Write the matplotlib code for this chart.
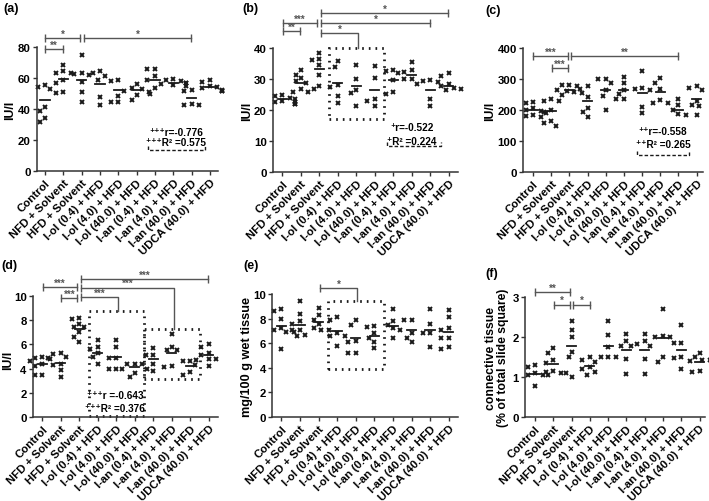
import numpy as np
import matplotlib
matplotlib.use('Agg')
import matplotlib.pyplot as plt
from matplotlib.patches import Rectangle

plt.rcParams['font.family'] = ['Liberation Sans', 'DejaVu Sans']
plt.rcParams['font.weight'] = 'bold'

groups = ['Control', 'NFD + Solvent', 'HFD + Solvent', 'I-ol (0.4) + HFD',
          'I-ol (4.0) + HFD', 'I-ol (40.0) + HFD', 'I-an (0.4) + HFD',
          'I-an (4.0) + HFD', 'I-an (40.0) + HFD', 'UDCA (40.0) + HFD']

# (a)
a_vals = [[54, 53, 55.5, 41.5, 39, 31.5, 34],
          [68.5, 64.5, 63.5, 63.5, 59, 57, 50.5, 51],
          [75, 62.5, 63.5, 62, 57.5, 51, 44.5],
          [64.5, 63, 61, 59, 42.5, 47.5],
          [58, 59, 48.5, 44.5, 44.5],
          [56, 53, 53.5, 51, 51.5, 49, 45.5],
          [66, 66, 61, 59, 53.5, 50],
          [59.5, 59, 58, 57, 57, 56, 55.5, 55],
          [52.5, 51.5, 43, 42.5, 42.5],
          [58.7, 57.5, 54.7, 54, 52.5, 51.5, 51.5, 53.5]]
a_means = [45.5, 59.3, 59, 56, 52.3, 52, 59, 56.7, 46.8, 54]

# (b)
b_vals = [[25, 24.5, 24, 23.5, 23, 22.5, 22, 22, 22.5],
          [32.9, 31.4, 30.3, 29.2, 28.7, 26.7, 25.7, 25.7],
          [38.4, 36.4, 36, 34.4, 31.2, 26.7, 27.8],
          [35.8, 34, 28.1, 27.4, 24.5, 22.1],
          [34.5, 30.1, 26.5, 25.4, 21.3],
          [34.2, 30.3, 23.7, 23, 21.2],
          [31.8, 32.7, 32.9, 29.6, 25.2, 25.7],
          [35.6, 32.9, 32.2, 30.1, 30.1, 28.5],
          [29.2, 28.9, 29.6, 23.5, 21.2],
          [32, 31.1, 27.8, 28.5, 27, 26.5, 26.8]]
b_means = [23.5, 28.7, 33.1, 28.7, 27.6, 26.5, 29.6, 31.4, 26.4, 27.8]

# (c)
c_vals = [[226, 221, 205, 200, 198, 190, 185, 180, 178],
          [237, 230, 230, 201, 193, 164, 148, 158],
          [280, 280, 278, 265, 262, 258, 248, 255],
          [276, 268, 243, 208, 194, 179],
          [300, 300, 287, 265, 246, 200],
          [307, 287, 265, 252, 234, 234],
          [327, 270, 268, 265, 210, 190],
          [303, 287, 267, 232, 223, 223],
          [235, 215, 201, 185, 188],
          [276, 263, 270, 230, 215, 212, 185]]
c_means = [201, 196, 263, 229, 265, 263, 254, 257, 201, 237]

# (d)
d_vals = [[5.0, 4.9, 4.8, 4.6, 4.4, 4.2, 3.5, 3.5],
          [5.2, 5.3, 4.9, 5.0, 4.4, 4.3, 3.9, 3.3],
          [8.1, 8.2, 7.7, 7.4, 7.4, 7.0, 6.6, 6.2],
          [6.4, 5.6, 5.8, 5.3, 5.0, 4.4],
          [6.4, 5.8, 4.9, 4.9, 4.0, 4.0],
          [4.4, 4.4, 4.4, 4.0, 4.0, 3.3, 3.6],
          [5.7, 5.1, 5.1, 4.4, 3.8],
          [6.9, 5.5, 5.5, 5.8, 4.1, 4.2],
          [4.6, 4.6, 3.5, 3.7, 4.3],
          [6.0, 5.8, 5.3, 5.1, 4.8, 4.7, 4.8, 4.2]]
d_means = [4.4, 4.5, 7.3, 5.3, 5.0, 4.1, 4.8, 5.3, 4.2, 5.1]

# (e)
e_vals = [[8.8, 8.6, 8.0, 7.2, 7.1, 6.9, 6.9, 5.5],
          [9.4, 8.4, 7.8, 7.6, 7.1, 7.1, 6.6, 6.7],
          [8.9, 8.3, 7.9, 7.6, 7.2, 7.1, 7.1],
          [7.9, 8.1, 6.6, 6.6, 6.8, 5.8],
          [7.9, 7.5, 6.2, 6.1, 5.2, 5.2],
          [7.3, 7.4, 6.8, 6.4, 6.1, 5.6],
          [8.8, 7.8, 7.5, 7.2, 7.1, 6.4],
          [7.9, 7.9, 6.8, 6.4, 6.1],
          [8.8, 7.6, 6.8, 6.8, 5.7],
          [8.7, 8.1, 7.1, 7.2, 6.4, 6.4, 5.5, 5.7]]
e_means = [7.4, 7.5, 7.7, 7.0, 6.4, 6.6, 7.4, 7.1, 7.1, 6.9]

# (f)
f_vals = [[1.3, 1.25, 1.1, 1.05, 1.05, 1.05, 0.77],
          [1.73, 1.6, 1.42, 1.35, 1.15, 1.1, 1.12, 1.1],
          [2.39, 2.18, 2.01, 1.63, 1.49, 1.0],
          [1.5, 1.42, 1.38, 1.25, 1.19, 1.12, 1.05],
          [2.41, 2.05, 1.74, 1.49, 1.49, 1.49],
          [2.07, 1.89, 1.78, 1.78, 1.46, 1.07],
          [2.07, 1.89, 1.83, 1.78, 1.46, 1.07],
          [2.69, 2.0, 2.0, 2.03, 1.38, 1.49],
          [2.31, 1.84, 1.84, 1.49, 1.48, 1.21],
          [1.61, 1.5, 1.42, 1.4, 1.42, 1.13, 1.15]]
f_means = [1.07, 1.32, 1.78, 1.27, 1.78, 1.68, 1.68, 1.97, 1.68, 1.38]

# significance brackets: (from, to, y, stars, drop-to-y or None)
a_sig = [(0, 1, 78.5, '**', None), (0, 2, 85.5, '*', None), (2, 8, 85.5, '*', None)]
b_sig = [(0, 1, 45.5, '**', None), (0, 2, 48.1, '***', None), (2, 4.1, 44.8, '*', 40),
         (2, 8, 48.1, '*', None), (2, 9, 51.2, '*', None)]
c_sig = [(0, 2, 375, '***', None), (1, 2, 336, '***', None), (2, 8, 375, '**', None)]
d_sig = [(0, 2, 10.75, '***', None), (1, 2, 9.86, '***', None), (2, 4.1, 9.9, '***', 8.77),
         (2, 7.1, 10.7, '***', 7.25), (2, 9, 11.4, '***', None)]
e_sig = [(2, 4.05, 10.5, '*', 9.4)]
f_sig = [(0, 2, 3.13, '**', None), (1, 2, 2.81, '*', None), (2, 3, 2.81, '*', None)]

# dotted boxes (x0, y0, x1, y1)
b_boxes = [(2.5, 17.1, 5.5, 40)]
d_boxes = [(2.5, 0.1, 5.5, 8.8), (5.5, 3.1, 8.5, 7.25)]
e_boxes = [(2.5, 3.9, 5.5, 9.4)]

W, H = 709, 502
fig = plt.figure(figsize=(W / 100, H / 100), dpi=100)
INK = '#1a1a1a'
GREY = '#555555'


def swarm(vals, unit_px, cat_px=18.3, d=6.0):
    vals = np.asarray(vals, float)
    offs = np.zeros(len(vals))
    placed = []
    cands = [0]
    for k in range(1, 6):
        cands += [-k * 2.5, k * 2.5]
    for k in np.argsort(vals)[::-1]:
        y = vals[k] * unit_px
        for c in cands:
            if all((c - px) ** 2 + (y - py) ** 2 >= d * d for px, py in placed):
                break
        placed.append((c, y))
        offs[k] = c / cat_px
    return offs


def panel(box, vals, means, ymax, step, sig, boxes=(), xlim=(-0.5, 9.5)):
    x0, y0, x1, y1 = box
    ax = fig.add_axes([x0 / W, 1 - y1 / H, (x1 - x0) / W, (y1 - y0) / H])
    ax.set_xlim(*xlim)
    ax.set_ylim(0, ymax)
    cat_px = (x1 - x0) / (xlim[1] - xlim[0])
    unit_px = (y1 - y0) / ymax
    for i, v in enumerate(vals):
        xs = i + swarm(v, unit_px, cat_px)
        ax.plot(xs, v, 'x', color=INK, ms=3.5, mew=1.4, clip_on=False)
        ax.plot([i - 0.25, i + 0.25], [means[i], means[i]], color=INK, lw=1.3)
    for s in ['top', 'right']:
        ax.spines[s].set_visible(False)
    for s in ['left', 'bottom']:
        ax.spines[s].set_linewidth(1.1)
        ax.spines[s].set_color('#333333')
    ax.set_yticks(np.arange(0, ymax + step / 2, step))
    ax.set_xticks(range(len(groups)))
    ax.set_xticklabels(groups, rotation=45, ha='right', rotation_mode='anchor',
                       fontsize=7.3, fontweight='bold')
    ax.tick_params(axis='both', direction='out', length=3, width=1, color='#333333',
                   labelsize=8.2, pad=1.5)
    ax.tick_params(axis='x', pad=1.5)
    for lab in ax.get_yticklabels():
        lab.set_fontweight('bold')
    # brackets
    cap = dict(marker='|', ms=6, mew=1, color=GREY, ls='none', clip_on=False)
    for i, j, y, star, drop in sig:
        xa = i + (0.1 if i == 2 else 0.02)
        xb = j - (0.1 if j == 2 else 0.02) if drop is None else j
        if drop is None:
            ax.plot([xa, xb], [y, y], color=GREY, lw=1, clip_on=False)
            ax.plot([xa, xb], [y, y], **cap)
        else:
            ax.plot([xa, xb, xb], [y, y, drop], color=GREY, lw=1, clip_on=False)
            ax.plot([xa], [y], **cap)
        ax.annotate(star, ((xa + xb) / 2, y), xytext=(0, -0.5), textcoords='offset points',
                    ha='center', va='bottom', fontsize=7, color=GREY, annotation_clip=False)
    for bx0, by0, bx1, by1 in boxes:
        ax.add_patch(Rectangle((bx0, by0), bx1 - bx0, by1 - by0, fill=False, ec=INK,
                               lw=2, ls=(0, (0.6, 1.8)), clip_on=False))
    return ax, unit_px


def stats(ax, unit_px, xc, yr, yR, sym, r, R2, under=None, eq='='):
    ax.text(xc, yr, sym + 'r' + eq + r, ha='center', va='center', fontsize=7.2)
    ax.text(xc, yR, sym + 'R\u00b2 =' + R2, ha='center', va='center', fontsize=7.2)
    if under is not None:
        ux0, ux1, uy = under
        h = 4 / unit_px
        ax.plot([ux0, ux0, ux1, ux1], [uy + h, uy, uy, uy + h], color=INK, lw=1,
                ls=(0, (2.5, 1.5)), clip_on=False)


ax, u = panel((37, 48, 218, 172), a_vals, a_means, 80, 20, a_sig, xlim=(-0.44, 9.44))
stats(ax, u, 7.15, 25, 18.5, '\u207a\u207a\u207a', '-0.776', '0.575', (5.6, 8.75, 13.5))
ax, u = panel((273, 49, 458, 173), b_vals, b_means, 40, 10, b_sig, b_boxes)
stats(ax, u, 7.0, 14.5, 10, '\u207a', '-0.522', '0.224', (5.65, 8.6, 8.3))
ax, u = panel((523, 49, 703, 173), c_vals, c_means, 400, 100, c_sig, xlim=(-0.55, 9.35))
stats(ax, u, 7.15, 132, 90, '\u207a\u207a', '-0.558', '0.265', (5.7, 8.6, 55))
ax, u = panel((33, 297, 218, 418), d_vals, d_means, 10, 2, d_sig, d_boxes)
stats(ax, u, 3.95, 1.8, 0.75, '\u207a\u207a\u207a', '-0.643', '0.376', eq=' =')
ax, u = panel((272, 295, 458, 418), e_vals, e_means, 10, 2, e_sig, e_boxes)
ax, u = panel((525, 298, 705, 418), f_vals, f_means, 3, 1, f_sig, xlim=(-0.55, 9.3))

# y axis titles
ylab = [(10, 110, 'IU/l', 8.8), (247, 111, 'IU/l', 8.8), (490, 111, 'IU/l', 8.8),
        (8, 360, 'IU/l', 8.8), (247, 357, 'mg/100 g wet tissue', 9.2),
        (497, 358, 'connective tissue\n(% of total slide square)', 8.8)]
for x, y, t, fs in ylab:
    fig.text(x / W, 1 - y / H, t, rotation=90, ha='center', va='center', fontsize=fs,
             fontweight='bold', linespacing=1.0)

# panel letters
for x, y, t in [(3, 9, '(a)'), (242, 9, '(b)'), (485, 11, '(c)'),
                (1, 266, '(d)'), (243, 266, '(e)'), (485, 274, '(f)')]:
    fig.text(x / W, 1 - y / H, t, ha='left', va='center', fontsize=9, fontweight='bold')

fig.savefig('out.png', dpi=100)
